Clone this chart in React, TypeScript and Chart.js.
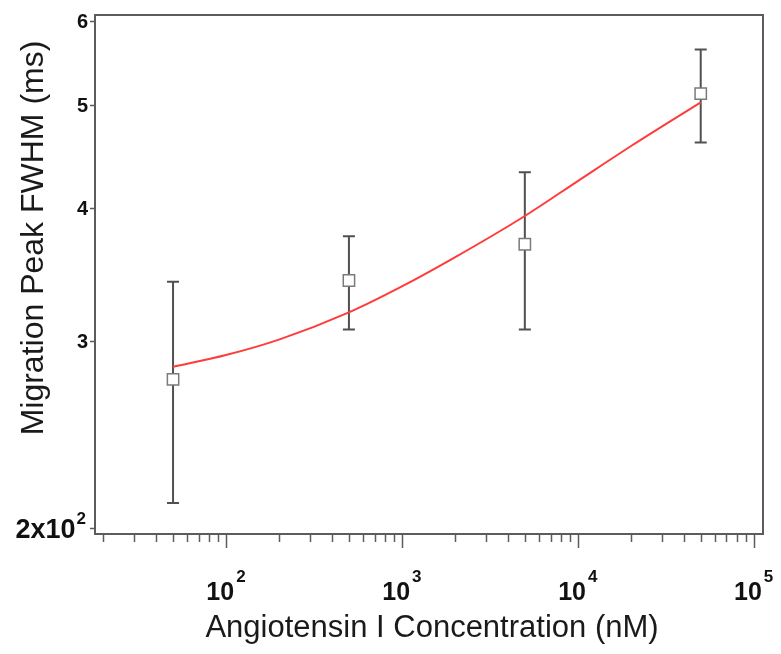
import React, { useEffect, useRef } from "react";
import { Chart, registerables } from "chart.js";

Chart.register(...registerables);

// Measured data points (Angiotensin I concentration in nM, FWHM in ms)
const concentration = [50, 500, 5000, 50000];
const fwhm = [2.76, 3.42, 3.7, 5.13];
const fwhmError = [0.65, 0.345, 0.625, 0.515];

// Fitted curve
const fitConcentration = [50, 100, 200, 500, 1000, 2000, 5000, 10000, 20000, 50000];
const fitFwhm = [2.836, 2.909, 3.008, 3.191, 3.376, 3.596, 3.934, 4.244, 4.577, 5.035];

// Axis ticks
const xMajorTicks = [100, 1000, 10000, 100000];
const xMajorExponents = ["2", "3", "4", "5"];
const xMinorTicks = [
  20, 30, 40, 50, 60, 70, 80, 90,
  200, 300, 400, 500, 600, 700, 800, 900,
  2000, 3000, 4000, 5000, 6000, 7000, 8000, 9000,
  20000, 30000, 40000, 50000, 60000, 70000, 80000, 90000,
];
const yTicks = [2, 3, 4, 5, 6];
const yTickLabels = ["2x10", "3", "4", "5", "6"];
const yTickSuperscripts = ["2", "", "", "", ""];

const xTitle = "Angiotensin I Concentration (nM)";
const yTitle = "Migration Peak FWHM (ms)";

const FONT = "'Liberation Sans', Arial, sans-serif";
const AXIS_COLOR = "#5c5c5c";

const decorPlugin = {
  id: "decor",
  beforeDatasetsDraw(chart: any) {
    const { ctx } = chart;
    const xs = chart.scales.x;
    const ys = chart.scales.y;
    ctx.save();
    // error bars
    ctx.strokeStyle = "#505050";
    ctx.lineWidth = 2;
    for (let i = 0; i < concentration.length; i++) {
      const px = xs.getPixelForValue(concentration[i]);
      const top = ys.getPixelForValue(fwhm[i] + fwhmError[i]);
      const bot = ys.getPixelForValue(fwhm[i] - fwhmError[i]);
      ctx.beginPath();
      ctx.moveTo(px, top);
      ctx.lineTo(px, bot);
      ctx.moveTo(px - 6, top);
      ctx.lineTo(px + 6, top);
      ctx.moveTo(px - 6, bot);
      ctx.lineTo(px + 6, bot);
      ctx.stroke();
    }
    ctx.restore();
  },
  afterDraw(chart: any) {
    const { ctx, chartArea } = chart;
    const xs = chart.scales.x;
    const ys = chart.scales.y;
    const { left, right, top, bottom } = chartArea;
    ctx.save();
    // frame
    ctx.strokeStyle = AXIS_COLOR;
    ctx.lineWidth = 2;
    ctx.strokeRect(left, top, right - left, bottom - top);

    // x ticks
    ctx.lineWidth = 1.5;
    ctx.beginPath();
    for (const v of xMinorTicks) {
      const px = Math.round(xs.getPixelForValue(v)) + 0.5;
      ctx.moveTo(px, bottom + 1);
      ctx.lineTo(px, bottom + 8);
    }
    for (const v of xMajorTicks) {
      const px = Math.round(xs.getPixelForValue(v)) + 0.5;
      ctx.moveTo(px, bottom + 1);
      ctx.lineTo(px, bottom + 14);
    }
    // y ticks
    for (const v of yTicks) {
      const py = Math.round(ys.getPixelForValue(v)) + 0.5;
      ctx.moveTo(left - 1, py);
      ctx.lineTo(left - 5, py);
    }
    ctx.stroke();

    // x labels
    ctx.fillStyle = "#111111";
    ctx.textBaseline = "alphabetic";
    xMajorTicks.forEach((v, i) => {
      const px = xs.getPixelForValue(v);
      ctx.font = `bold 25px ${FONT}`;
      const mainW = ctx.measureText("10").width;
      ctx.font = `bold 17px ${FONT}`;
      const supW = ctx.measureText(xMajorExponents[i]).width;
      const total = mainW + 2 + supW;
      const x0 = px - total / 2;
      ctx.textAlign = "left";
      ctx.font = `bold 25px ${FONT}`;
      ctx.fillText("10", x0, 600);
      ctx.font = `bold 17px ${FONT}`;
      ctx.fillText(xMajorExponents[i], x0 + mainW + 2, 582);
    });

    // y labels
    yTicks.forEach((v, i) => {
      const py = ys.getPixelForValue(v);
      const sup = yTickSuperscripts[i];
      ctx.textAlign = "right";
      if (sup) {
        ctx.font = `bold 17px ${FONT}`;
        const supW = ctx.measureText(sup).width;
        ctx.fillText(sup, left - 9, py - 4);
        ctx.font = `bold 27px ${FONT}`;
        ctx.fillText(yTickLabels[i], left - 10 - supW, py + 10);
      } else {
        ctx.font = `bold 20px ${FONT}`;
        ctx.fillText(yTickLabels[i], left - 7, py + 7);
      }
    });

    // titles
    ctx.fillStyle = "#1a1a1a";
    ctx.font = `31px ${FONT}`;
    ctx.textAlign = "center";
    ctx.fillText(xTitle, 432, 637);

    ctx.save();
    ctx.translate(43, 238);
    ctx.rotate(-Math.PI / 2);
    ctx.font = `32px ${FONT}`;
    ctx.textAlign = "center";
    ctx.fillText(yTitle, 0, 0);
    ctx.restore();

    ctx.restore();
  },
};

export default function App() {
  const canvasRef = useRef<HTMLCanvasElement | null>(null);

  useEffect(() => {
    const canvas = canvasRef.current;
    if (!canvas) return;
    const chart = new Chart(canvas, {
      type: "scatter",
      data: {
        datasets: [
          {
            label: "Measured",
            data: concentration.map((x, i) => ({ x, y: fwhm[i] })),
            pointStyle: "rect",
            pointRadius: 8,
            pointHoverRadius: 8,
            pointBackgroundColor: "#ffffff",
            pointBorderColor: "#7a7a7a",
            pointBorderWidth: 1.5,
            showLine: false,
            order: 1,
          },
          {
            label: "Fit",
            data: fitConcentration.map((x, i) => ({ x, y: fitFwhm[i] })),
            showLine: true,
            pointRadius: 0,
            pointHoverRadius: 0,
            borderColor: "#ff3c3c",
            borderWidth: 2,
            cubicInterpolationMode: "monotone",
            fill: false,
            order: 2,
          },
        ],
      },
      options: {
        responsive: false,
        animation: false,
        devicePixelRatio: 1,
        layout: { padding: { left: 95, top: 15, right: 18, bottom: 120 } },
        plugins: {
          legend: { display: false },
          tooltip: { enabled: false },
        },
        events: [],
        scales: {
          x: { type: "logarithmic", min: 18, max: 113000, display: false },
          y: { type: "logarithmic", min: 1.973, max: 6.085, display: false },
        },
      },
      plugins: [decorPlugin],
    });
    return () => chart.destroy();
  }, []);

  return (
    <div style={{ position: "absolute", left: 0, top: 0, width: 781, height: 654, background: "#fff" }}>
      <canvas ref={canvasRef} width={781} height={654} style={{ display: "block" }} />
    </div>
  );
}
